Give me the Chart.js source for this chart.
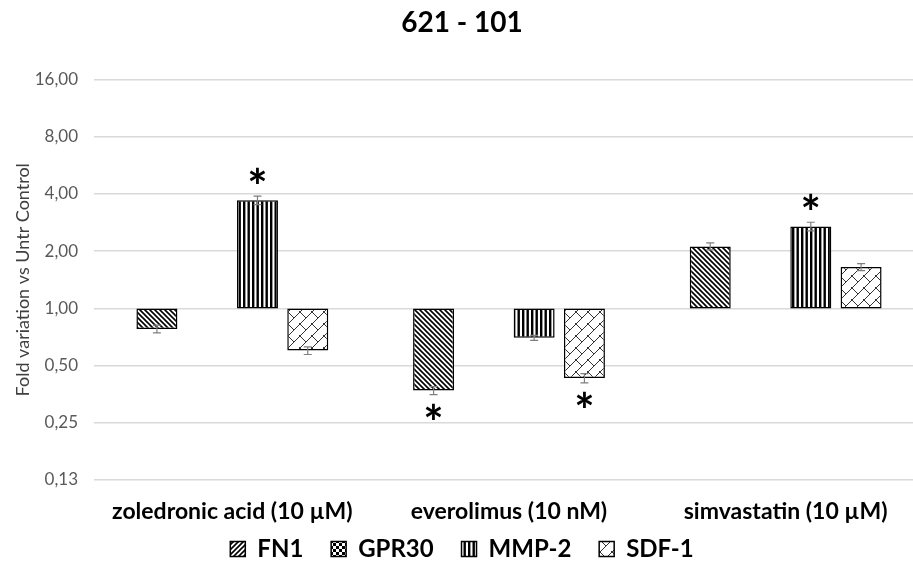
<!DOCTYPE html>
<html>
<head>
<meta charset="utf-8">
<script src="https://cdn.jsdelivr.net/npm/chart.js@4"></script>
<style>
  html, body { margin: 0; padding: 0; background: #fff; overflow: hidden; }
  canvas { display: block; }
</style>
</head>
<body>
<canvas id="myChart" width="927" height="571"></canvas>
<script>
// fold change vs untreated control, per drug
const categories = ['zoledronic acid (10 µM)', 'everolimus (10 nM)', 'simvastatin (10 µM)'];

const fn1   = [0.78, 0.37, 2.12];
const gpr30 = [1.00, 1.00, 1.00];
const mmp2  = [3.71, 0.70, 2.70];
const sdf1  = [0.60, 0.43, 1.65];

const fn1Err   = [0.037, 0.018, 0.09];
const gpr30Err = [0, 0, 0];
const mmp2Err  = [0.19, 0.022, 0.14];
const sdf1Err  = [0.028, 0.024, 0.07];

// significance markers
const fn1Sig   = [false, true, false];
const gpr30Sig = [false, false, false];
const mmp2Sig  = [true, false, true];
const sdf1Sig  = [false, true, false];

const tickValues = [0.125, 0.25, 0.5, 1, 2, 4, 8, 16];
const tickLabels = ['0,13', '0,25', '0,50', '1,00', '2,00', '4,00', '8,00', '16,00'];

const FONT = 'Lato, "Open Sans", sans-serif';

function makePattern(size, draw) {
    const c = document.createElement('canvas');
    c.width = size; c.height = size;
    const g = c.getContext('2d');
    g.fillStyle = '#fff';
    g.fillRect(0, 0, size, size);
    draw(g, size);
    return g.createPattern(c, 'repeat');
}

function diagonal(dir) {
    return makePattern(5, (g, s) => {
        g.strokeStyle = '#000';
        g.lineWidth = 1.6;
        g.beginPath();
        for (let k = -1; k <= 1; k++) {
            if (dir > 0) {
                g.moveTo(k * s - 1, -1);
                g.lineTo(k * s + s + 1, s + 1);
            } else {
                g.moveTo(k * s - 1, s + 1);
                g.lineTo(k * s + s + 1, -1);
            }
        }
        g.stroke();
    });
}

const ctx = document.getElementById('myChart').getContext('2d');

const hatch = diagonal(1);
const hatchKey = diagonal(-1);

const checker = makePattern(6, (g, s) => {
    g.fillStyle = '#000';
    g.fillRect(0, 0, 3, 3);
    g.fillRect(3, 3, 3, 3);
});

const stripes = makePattern(9, (g, s) => {
    g.fillStyle = '#000';
    g.fillRect(0, 0, 2.4, s);
    g.fillRect(4.5, 0, 2.4, s);
});

const brick = makePattern(12, (g, s) => {
    g.strokeStyle = '#333';
    g.lineWidth = 1;
    g.beginPath();
    g.moveTo(-1, s + 1); g.lineTo(s + 1, -1);
    g.moveTo(-1, 1); g.lineTo(1, -1);
    g.moveTo(s - 1, s + 1); g.lineTo(s + 1, s - 1);
    g.moveTo(-1, -1); g.lineTo(s / 2, s / 2);
    g.moveTo(s - 1, s - 1); g.lineTo(s + 1, s + 1);
    g.stroke();
});

function series(label, values, errs, sig, fill, keyFill) {
    return {
        label: label,
        data: values.map(v => [1, v]),
        errors: errs,
        stars: sig,
        keyFill: keyFill || fill,
        backgroundColor: fill,
        borderColor: '#000',
        borderWidth: 1.5,
        borderSkipped: false,
        categoryPercentage: 0.727,
        barPercentage: 0.815
    };
}

// error whiskers and asterisks on top of the bars
const barMarks = {
    id: 'barMarks',
    afterDatasetsDraw(chart) {
        const c = chart.ctx;
        const y = chart.scales.y;
        c.save();
        chart.data.datasets.forEach((ds, i) => {
            const meta = chart.getDatasetMeta(i);
            meta.data.forEach((bar, j) => {
                const v = ds.data[j][1];
                const e = ds.errors[j];
                if (e) {
                    const yHi = y.getPixelForValue(v + e);
                    const yLo = y.getPixelForValue(v - e);
                    c.strokeStyle = '#7f7f7f';
                    c.lineWidth = 1.2;
                    c.beginPath();
                    c.moveTo(bar.x, yHi); c.lineTo(bar.x, yLo);
                    c.moveTo(bar.x - 4, yHi); c.lineTo(bar.x + 4, yHi);
                    c.moveTo(bar.x - 4, yLo); c.lineTo(bar.x + 4, yLo);
                    c.stroke();
                }
                if (ds.stars[j]) {
                    c.fillStyle = '#000';
                    c.font = 'bold 48px ' + FONT;
                    c.textAlign = 'center';
                    c.textBaseline = 'alphabetic';
                    if (v >= 1) {
                        c.fillText('*', bar.x, y.getPixelForValue(v + e) + 8);
                    } else {
                        c.fillText('*', bar.x, y.getPixelForValue(v - e) + 45);
                    }
                }
            });
        });
        c.restore();
    }
};

const chart = new Chart(ctx, {
    type: 'bar',
    data: {
        labels: categories,
        datasets: [
            series('FN1', fn1, fn1Err, fn1Sig, hatch, hatchKey),
            series('GPR30', gpr30, gpr30Err, gpr30Sig, checker),
            series('MMP-2', mmp2, mmp2Err, mmp2Sig, stripes),
            series('SDF-1', sdf1, sdf1Err, sdf1Sig, brick)
        ]
    },
    options: {
        responsive: false,
        animation: false,
        layout: { padding: { left: 0, right: 3, top: 0, bottom: 0 } },
        plugins: {
            title: {
                display: true,
                text: '621 - 101',
                color: '#000',
                font: { family: FONT, size: 28, weight: 'bold' },
                padding: { top: 6, bottom: 40 }
            },
            legend: {
                position: 'bottom',
                labels: {
                    color: '#000',
                    font: { family: FONT, size: 24, weight: 'bold' },
                    boxWidth: 15,
                    boxHeight: 15,
                    padding: 10,
                    generateLabels: chart => {
                        const items = Chart.defaults.plugins.legend.labels.generateLabels(chart);
                        items.forEach((it, k) => {
                            it.fillStyle = chart.data.datasets[it.datasetIndex].keyFill;
                            // wider gap between keys
                            if (k < items.length - 1) it.text += '\u2002 ';
                        });
                        return items;
                    }
                }
            },
            tooltip: { enabled: false }
        },
        scales: {
            x: {
                grid: { display: false, drawTicks: false },
                border: { display: false },
                afterFit: axis => { axis.height = 47; },
                ticks: {
                    color: '#000',
                    padding: 18,
                    font: { family: FONT, size: 23, weight: 'bold' }
                }
            },
            y: {
                type: 'logarithmic',
                min: 0.125,
                max: 16,
                afterBuildTicks: axis => {
                    axis.ticks = tickValues.map(v => ({ value: v }));
                },
                afterFit: axis => { axis.width = 94; },
                grid: { color: '#d9d9d9', lineWidth: 1.5, drawTicks: false },
                border: { display: false },
                ticks: {
                    color: '#595959',
                    padding: 16,
                    font: { family: FONT, size: 17 },
                    callback: (value, index) => tickLabels[index]
                },
                title: {
                    display: true,
                    text: 'Fold variation vs Untr Control',
                    color: '#404040',
                    font: { family: FONT, size: 18 },
                    padding: { top: 12, bottom: 0 }
                }
            }
        }
    },
    plugins: [barMarks]
});
</script>
</body>
</html>
